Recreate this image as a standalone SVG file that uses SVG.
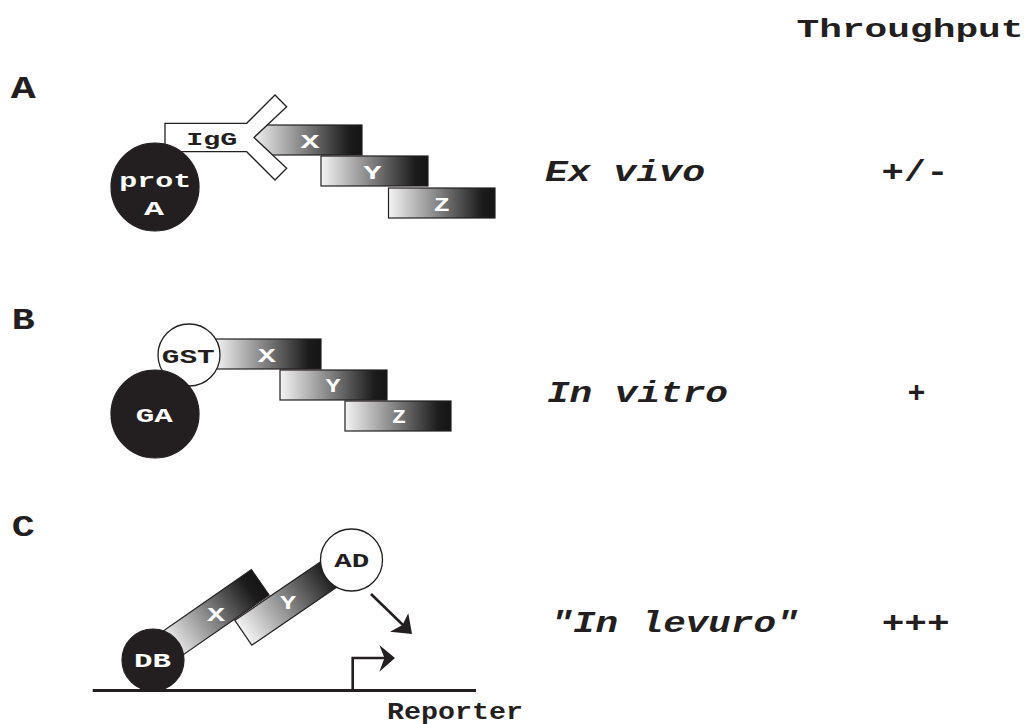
<svg xmlns="http://www.w3.org/2000/svg" width="1027" height="724" viewBox="0 0 1027 724">
<defs>
<linearGradient id="bar" x1="0" y1="0" x2="1" y2="0">
<stop offset="0" stop-color="#f4f4f4"/>
<stop offset="0.5" stop-color="#7a7a7a"/>
<stop offset="0.88" stop-color="#1c1c1c"/>
<stop offset="1" stop-color="#151515"/>
</linearGradient>
<style>
text{font-family:"Liberation Mono","Courier New",monospace;font-weight:bold;text-anchor:middle;fill:#231f20}
.big{font-size:30px}
.it{font-style:italic}
.n{font-size:20px}
.w{fill:#fff}
.barr{fill:url(#bar);stroke:#231f20;stroke-width:1.2}
.dk{fill:#231f20;stroke:#231f20;stroke-width:1.2}
.lt{fill:#fff;stroke:#231f20;stroke-width:1.3}
.ln{fill:none;stroke:#231f20;stroke-width:3}
.ah{fill:#231f20;stroke:none}
</style>
</defs>
<rect width="1027" height="724" fill="#fff"/>

<g id="labels">
<text x="910" y="37.3" style="font-size:25px" textLength="227" lengthAdjust="spacingAndGlyphs">Throughput</text>
<text x="23.3" y="98.3" style="font-size:32px" textLength="25" lengthAdjust="spacingAndGlyphs">A</text>
<text x="23.3" y="329.3" class="big" textLength="23" lengthAdjust="spacingAndGlyphs">B</text>
<text x="23.3" y="535.7" class="big" textLength="23" lengthAdjust="spacingAndGlyphs">C</text>
<text x="625" y="180.7" class="big it" textLength="160" lengthAdjust="spacingAndGlyphs">Ex vivo</text>
<text x="915" y="181" class="big" textLength="67" lengthAdjust="spacingAndGlyphs">+/-</text>
<text x="637.5" y="401.7" class="big it" textLength="181" lengthAdjust="spacingAndGlyphs">In vitro</text>
<text x="916.5" y="401.5" class="big">+</text>
<text x="674.5" y="631.7" class="big it" textLength="248" lengthAdjust="spacingAndGlyphs">"In levuro"</text>
<text x="915.7" y="631.7" class="big" textLength="68" lengthAdjust="spacingAndGlyphs">+++</text>
</g>

<g id="panelA">
<g id="A-X"><rect class="barr" x="252" y="125" width="110" height="30"/><text class="n w" x="310" y="147.5" textLength="19" lengthAdjust="spacingAndGlyphs">X</text></g>
<g id="A-Y"><rect class="barr" x="321" y="156" width="107" height="30"/><text class="n w" x="372.5" y="179" textLength="18" lengthAdjust="spacingAndGlyphs">Y</text></g>
<g id="A-Z"><rect class="barr" x="388.5" y="188" width="106.5" height="30"/><text class="n w" x="441.7" y="210.5" textLength="16" lengthAdjust="spacingAndGlyphs">Z</text></g>
<g id="A-IgG"><polygon class="lt" points="165,123.3 246.7,123.3 275,95 286.7,106.7 254,137.5 286.7,168.3 275,180 246.7,151.7 165,151.7"/><text class="n" x="211.7" y="145" style="font-size:19px" textLength="51" lengthAdjust="spacingAndGlyphs">IgG</text></g>
<g id="A-protA"><circle class="dk" cx="155" cy="187" r="44"/><text class="n w" x="155.3" y="186.7" style="font-size:21px" textLength="72" lengthAdjust="spacingAndGlyphs">prot</text><text class="n w" x="154" y="215" style="font-size:21px" textLength="20" lengthAdjust="spacingAndGlyphs">A</text></g>
</g>

<g id="panelB">
<g id="B-X"><rect class="barr" x="215" y="339" width="106" height="30"/><text class="n w" x="266.7" y="361.5" textLength="18" lengthAdjust="spacingAndGlyphs">X</text></g>
<g id="B-Y"><rect class="barr" x="280" y="370" width="107" height="30"/><text class="n w" x="333" y="391.7" textLength="15" lengthAdjust="spacingAndGlyphs">Y</text></g>
<g id="B-Z"><rect class="barr" x="345" y="401" width="106" height="30"/><text class="n w" x="399" y="423.3" textLength="14" lengthAdjust="spacingAndGlyphs">Z</text></g>
<g id="B-GST"><circle class="lt" cx="189" cy="355" r="31"/><text class="n" x="188.3" y="362.7" style="font-size:21px" textLength="53" lengthAdjust="spacingAndGlyphs">GST</text></g>
<g id="B-GA"><circle class="dk" cx="155" cy="414" r="44"/><text class="n w" x="154.2" y="421.7" textLength="37" lengthAdjust="spacingAndGlyphs">GA</text></g>
</g>

<g id="panelC">
<g id="C-X"><rect class="barr" x="0" y="-15.5" width="112" height="31" transform="translate(168.3,646.3) rotate(-34.8)"/><text class="n w" x="216" y="621" textLength="18" lengthAdjust="spacingAndGlyphs">X</text></g>
<g id="C-Y"><rect class="barr" x="0" y="-15" width="118" height="30" transform="translate(243.3,632.8) rotate(-34.3)"/><text class="n w" x="288" y="608.5" textLength="16" lengthAdjust="spacingAndGlyphs">Y</text></g>
<g id="C-DB"><circle class="dk" cx="153" cy="660" r="31"/><text class="n w" x="152.5" y="666.7" textLength="37" lengthAdjust="spacingAndGlyphs">DB</text></g>
<g id="C-AD"><circle class="lt" cx="351.5" cy="560" r="31"/><text class="n" x="351.7" y="566.7" textLength="35" lengthAdjust="spacingAndGlyphs">AD</text></g>
<g id="C-reporter"><text x="455" y="718.5" style="font-size:23px" textLength="136" lengthAdjust="spacingAndGlyphs">Reporter</text></g>
</g>

<g id="connectors">
<line class="ln" x1="92.7" y1="690.5" x2="476" y2="690.5"/>
<path class="ln" style="stroke-width:2.6" d="M352.7,690 V658 H386"/>
<polygon class="ah" points="395,658 379.3,645 384.5,658 379.3,671.7"/>
<line class="ln" style="stroke-width:2.6" x1="371" y1="594" x2="404" y2="626"/>
<polygon class="ah" points="412,634 390,631.7 402.5,625 408.3,613.3"/>
</g>
</svg>
